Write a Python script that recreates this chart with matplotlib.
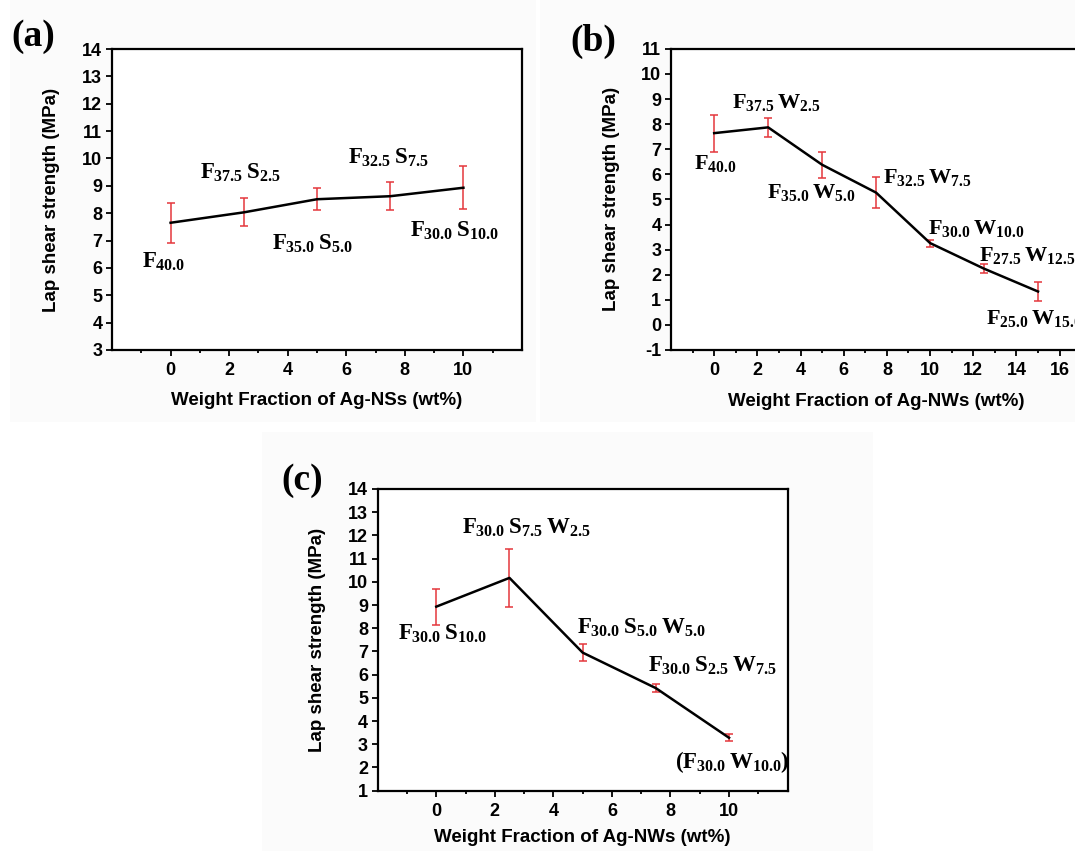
import matplotlib
matplotlib.use("Agg")
import matplotlib.pyplot as plt
from matplotlib.ticker import FixedLocator, MultipleLocator
from matplotlib.patches import Rectangle

# ---------------- data ----------------
x_a = [0, 2.5, 5, 7.5, 10]
y_a = [7.65, 8.03, 8.51, 8.62, 8.93]
err_a = [0.73, 0.51, 0.40, 0.51, 0.78]
labels_a = [r"$F_{40.0}$", r"$F_{37.5}\:S_{2.5}$", r"$F_{35.0}\:S_{5.0}$",
            r"$F_{32.5}\:S_{7.5}$", r"$F_{30.0}\:S_{10.0}$"]

x_b = [0, 2.5, 5, 7.5, 10, 12.5, 15]
y_b = [7.64, 7.87, 6.38, 5.27, 3.26, 2.24, 1.33]
err_b = [0.74, 0.38, 0.51, 0.62, 0.14, 0.19, 0.38]
labels_b = [r"$F_{40.0}$", r"$F_{37.5}\:W_{2.5}$", r"$F_{35.0}\:W_{5.0}$",
            r"$F_{32.5}\:W_{7.5}$", r"$F_{30.0}\:W_{10.0}$",
            r"$F_{27.5}\:W_{12.5}$", r"$F_{25.0}\:W_{15.0}$"]

x_c = [0, 2.5, 5, 7.5, 10]
y_c = [8.93, 10.17, 6.95, 5.42, 3.28]
err_c = [0.78, 1.26, 0.37, 0.16, 0.15]
labels_c = [r"$F_{30.0}\:S_{10.0}$", r"$F_{30.0}\:S_{7.5}\:W_{2.5}$",
            r"$F_{30.0}\:S_{5.0}\:W_{5.0}$", r"$F_{30.0}\:S_{2.5}\:W_{7.5}$",
            r"$(F_{30.0}\:W_{10.0})$"]

xlabel_a = "Weight Fraction of Ag-NSs (wt%)"
xlabel_bc = "Weight Fraction of Ag-NWs (wt%)"
ylabel = "Lap shear strength (MPa)"
panel_tags = ["(a)", "(b)", "(c)"]

# ---------------- layout (label anchor positions, data coords) ----------------
pos_a = [(-0.97, 5.99), (1.02, 9.25), (3.47, 6.66), (6.05, 9.82), (8.18, 7.14)]
pos_b = [(-0.94, 6.22), (0.83, 8.65), (2.45, 5.06), (7.83, 5.64),
         (9.92, 3.63), (12.25, 2.56), (12.6, 0.04)]
pos_c = [(-1.29, 7.52), (0.88, 12.09), (4.82, 7.78), (7.22, 6.13), (8.16, 1.96)]

# ---------------- style ----------------
plt.rcParams["font.family"] = ["Liberation Sans", "DejaVu Sans"]
plt.rcParams["font.weight"] = "bold"
plt.rcParams["axes.unicode_minus"] = False
plt.rcParams["mathtext.fontset"] = "custom"
plt.rcParams["mathtext.rm"] = "Liberation Serif:bold"
plt.rcParams["mathtext.it"] = "Liberation Serif:bold"
plt.rcParams["mathtext.bf"] = "Liberation Serif:bold"

RED = "#e4373c"
W, H = 1075, 851
fig = plt.figure(figsize=(W / 100, H / 100), dpi=100)

# very faint grey panel backgrounds
for (x0, y0, x1, y1) in [(10, 0, 536, 422), (540, 0, 1075, 422), (262, 432, 873, 851)]:
    fig.patches.append(Rectangle((x0 / W, 1 - y1 / H), (x1 - x0) / W, (y1 - y0) / H,
                                 transform=fig.transFigure, facecolor="#fbfbfb",
                                 edgecolor="none", zorder=-10))


def px_rect(left, top, right, bottom):
    return [left / W, 1 - bottom / H, (right - left) / W, (bottom - top) / H]


def make_panel(rect, x, y, err, labels, pos, xlim, ylim, xmajor, xminor,
               xlabel, xlab_y, ylab_x, annot_size=16.5):
    ax = fig.add_axes(rect)
    ax.set_facecolor("white")
    ax.errorbar(x, y, yerr=err, fmt="none", ecolor=RED, elinewidth=1.1,
                capsize=3, capthick=1.1, zorder=2)
    ax.plot(x, y, color="black", lw=1.8, zorder=3)
    ax.set_xlim(*xlim)
    ax.set_ylim(*ylim)
    ax.xaxis.set_major_locator(FixedLocator(xmajor))
    ax.xaxis.set_minor_locator(FixedLocator(xminor))
    ax.yaxis.set_major_locator(MultipleLocator(1))
    ax.tick_params(axis="both", which="major", direction="out", length=4.5,
                   width=1.3, labelsize=13, pad=2.5)
    ax.tick_params(axis="x", which="minor", direction="out", length=2.5, width=1.3)
    ax.tick_params(axis="x", which="major", pad=4)
    ax.tick_params(top=False, right=False, which="both")
    for lab in ax.get_xticklabels() + ax.get_yticklabels():
        lab.set_fontweight("bold")
    for s in ax.spines.values():
        s.set_linewidth(1.6)
    ax.set_xlabel(xlabel, fontsize=13.5, fontweight="bold")
    ax.set_ylabel(ylabel, fontsize=13.5, fontweight="bold")
    ax.xaxis.set_label_coords(0.5 if xlim[1] == 12 else 0.475, xlab_y)
    ax.yaxis.set_label_coords(ylab_x, 0.5)
    for lab, (tx, ty) in zip(labels, pos):
        ax.text(tx, ty, lab, fontsize=annot_size, ha="left", va="baseline",
                color="black", clip_on=False, zorder=4)
    return ax


make_panel(px_rect(112, 49, 522, 350), x_a, y_a, err_a, labels_a, pos_a,
           (-2, 12), (3, 14), [0, 2, 4, 6, 8, 10], [-1, 1, 3, 5, 7, 9, 11],
           xlabel_a, -0.14, -0.128)

make_panel(px_rect(671, 48.8, 1102.8, 350), x_b, y_b, err_b, labels_b, pos_b,
           (-2, 18), (-1, 11), [0, 2, 4, 6, 8, 10, 12, 14, 16],
           [-1, 1, 3, 5, 7, 9, 11, 13, 15, 17],
           xlabel_bc, -0.142, -0.117, annot_size=16)

make_panel(px_rect(377.7, 489, 787.6, 790.7), x_c, y_c, err_c, labels_c, pos_c,
           (-2, 12), (1, 14), [0, 2, 4, 6, 8, 10], [-1, 1, 3, 5, 7, 9, 11],
           xlabel_bc, -0.128, -0.125)

# panel tags
for tag, (px, py) in zip(panel_tags, [(11, 36), (570, 41), (281, 480)]):
    fig.text(px / W, 1 - py / H, tag, fontsize=27, fontweight="bold",
             family="Liberation Serif", ha="left", va="center")

fig.savefig("out.png", dpi=100)
